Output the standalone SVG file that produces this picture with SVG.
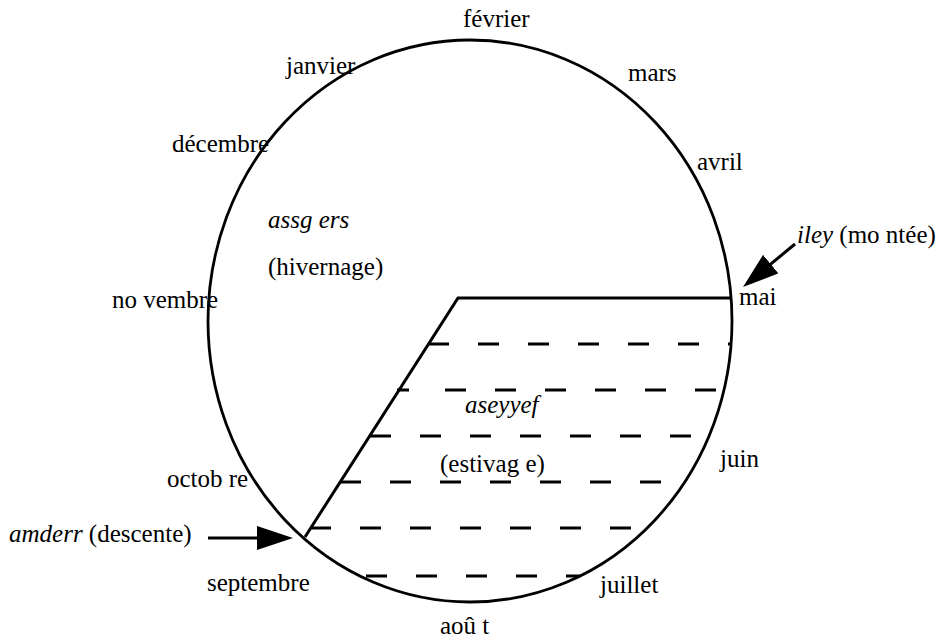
<svg xmlns="http://www.w3.org/2000/svg" width="949" height="639" viewBox="0 0 949 639">
<style>
text{font-family:'Liberation Serif','DejaVu Serif','Noto Serif',serif;font-size:25px;fill:#000}
.it{font-style:italic}
.ln{stroke:#000;stroke-width:3;fill:none}
.ds{stroke:#000;stroke-width:3;fill:none;stroke-dasharray:21 29}
</style>
<defs>
<marker id="ah" markerUnits="userSpaceOnUse" markerWidth="36" markerHeight="24" refX="16" refY="12" orient="auto">
<path d="M0,0 L36,12 L0,24 Z" fill="#000"/>
</marker>
</defs>
<g id="cycle">
<ellipse cx="470" cy="321" rx="262" ry="281" fill="none" stroke="#000" stroke-width="2.8"/>
</g>
<g id="estivage-zone">
<path class="ln" d="M732,298 H458 L305,537"/>
<line class="ds" x1="428" y1="344" x2="730" y2="344"/>
<line class="ds" x1="397" y1="390" x2="717" y2="390" style="stroke-dasharray:12 36 21 29 21 29 21 29 21 29 21 29 21 29"/>
<line class="ds" x1="370" y1="436" x2="692" y2="436"/>
<line class="ds" x1="340" y1="482" x2="662" y2="482"/>
<line class="ds" x1="310" y1="528" x2="631" y2="528"/>
<line class="ds" x1="366" y1="576" x2="580" y2="576"/>
</g>
<g id="connectors">
<line class="ln" x1="208" y1="538" x2="273" y2="538" marker-end="url(#ah)"/>
<line class="ln" x1="795" y1="244" x2="758.4" y2="274.3" marker-end="url(#ah)"/>
</g>
<g id="months">
<text x="463" y="27">février</text>
<text x="286" y="74">janvier</text>
<text x="628" y="81">mars</text>
<text x="172" y="152">décembre</text>
<text x="697" y="170">avril</text>
<text x="112" y="308">no vembre</text>
<text x="739" y="305">mai</text>
<text x="720" y="467">juin</text>
<text x="167" y="487">octob re</text>
<text x="207" y="591">septembre</text>
<text x="600" y="593">juillet</text>
<text x="440" y="634">aoû t</text>
</g>
<g id="labels">
<text class="it" x="268" y="228">assg ers</text>
<text x="268" y="275">(hivernage)</text>
<text class="it" x="465" y="413">aseyyef</text>
<text x="440" y="472">(estivag e)</text>
<text x="797" y="243"><tspan class="it">iley</tspan> (mo ntée)</text>
<text x="9" y="542"><tspan class="it">amderr</tspan> (descente)</text>
</g>
</svg>
